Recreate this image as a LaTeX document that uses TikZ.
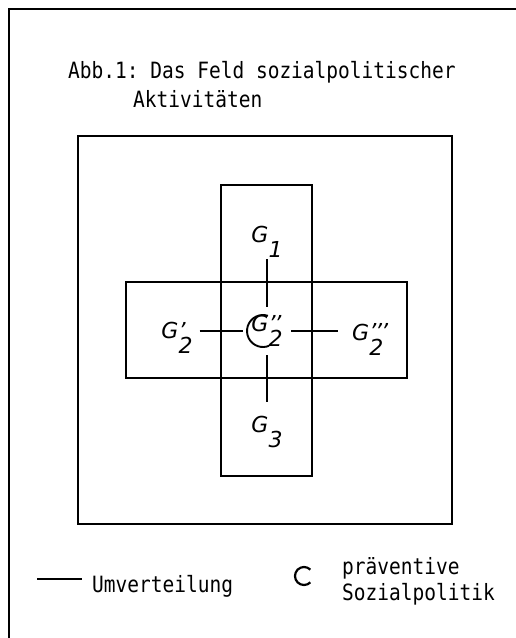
\documentclass[tikz,border=0pt]{standalone}
\usepackage{fontspec}
\setmonofont{DejaVu Sans Mono}
\setsansfont{DejaVu Sans}
\usetikzlibrary{positioning}
\newcommand{\gfont}{\sffamily\itshape\fontsize{22}{26}\selectfont}
\newcommand{\prm}{\char"27}
\newcommand{\gname}[2]{G\rlap{\raisebox{0.02em}{#2}}\raisebox{-0.7em}{#1}}
\newcommand{\mono}[1]{\scalebox{1}[1.15]{#1}}

\begin{document}
\begin{tikzpicture}[x=1pt,y=-1pt]
\tikzset{
  box/.style={line width=2pt},
  link/.style={line width=1.9pt},
  glab/.style={font=\gfont, inner sep=1pt},
  schrift/.style={font=\ttfamily\fontsize{19.5}{24}\selectfont, anchor=base west, inner sep=0pt}
}
\useasboundingbox (0,0) rectangle (516,638);
\draw[line width=1.6pt] (516,9) -- (9,9) -- (9,638);
\node[schrift] (titel) at (68,78) {\mono{Abb.1: Das Feld sozialpolitischer}};
\node[schrift] (titel2) at (133,107) {\mono{Aktivitäten}};
\draw[box] (78,136) rectangle (452,524);
\draw[box] (221,185) rectangle (312,476);
\draw[box] (126,282) rectangle (407,378);
\node[glab, minimum width=48pt, minimum height=48pt] (gzz) at (267,331) {\gname{2}{\prm\kern-0.05em\prm}};
\node[glab] (g1) at (267,242) {\gname{1}{}};
\node[glab] (g3) at (267,432) {\gname{3}{}};
\node[glab] (g21) at (177,338) {\gname{2}{\prm}};
\node[glab, anchor=base west] (g23) at (351,340) {\gname{2}{\prm\kern-0.05em\prm\kern-0.05em\prm}};
\draw[link] (g1.south -| gzz) -- (gzz);
\draw[link, shorten >=13pt] (gzz) -- (g3.north -| gzz);
\draw[link, shorten <=6pt] (g21.east |- gzz) -- (gzz);
\draw[link, shorten >=13pt] (gzz) -- (g23.west |- gzz);
\draw[link] (gzz.center) ++(-4,0) ++(72:16pt) arc[start angle=72, end angle=292, radius=16pt];
% Legende
\coordinate (lA) at (37,579);
\coordinate (lB) at (82,579);
\draw[link] (lA) -- (lB);
\node[schrift] (umv) at (92,592) {\mono{Umverteilung}};
\coordinate (cA) at (304,576);
\draw[line width=2.2pt] (cA) ++(45:9pt) arc[start angle=45, end angle=315, radius=9pt];
\node[schrift] (prae) at (342,574) {\mono{präventive}};
\node[schrift] (sozpol) at (342,600) {\mono{Sozialpolitik}};
\end{tikzpicture}
\end{document}
